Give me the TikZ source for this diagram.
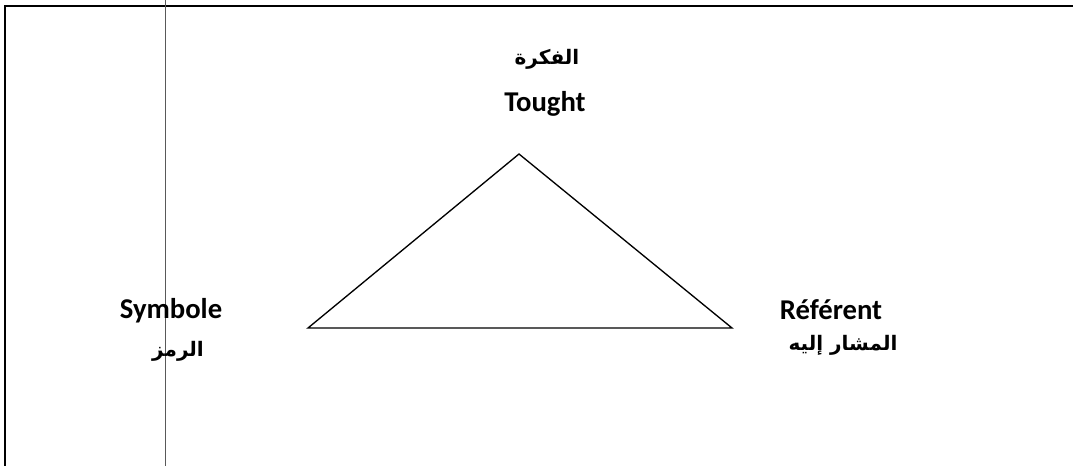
\documentclass[tikz,border=0pt]{standalone}
\usepackage{fontspec}
\setmainfont{Carlito}
\newfontfamily\arabicfont[Script=Arabic]{DejaVu Sans}
\TeXXeTstate=1
\begin{document}
\begin{tikzpicture}[x=0.75pt,y=-0.75pt,
  lat/.style={font=\fontsize{21.5}{26}\selectfont\bfseries, inner sep=0pt, anchor=base},
  arb/.style={font=\fontsize{15}{18}\selectfont\arabicfont\bfseries, inner sep=0pt, anchor=center},
  frameline/.style={line width=1.6pt, black},
  guide/.style={line width=0.8pt, black!65},
  tri/.style={line width=1pt, black, line join=miter}]
\useasboundingbox (0,0) rectangle (1073,466);
% frame
\coordinate (fbl) at (5,466);
\coordinate (ftl) at (5,6);
\coordinate (ftr) at (1073,6);
\draw[frameline] (fbl) -- (ftl) -- (ftr);
% thin vertical guide line
\coordinate (gt) at (165.5,0);
\coordinate (gb) at (165.5,466);
\draw[guide] (gt) -- (gb);
% triangle
\coordinate (apex) at (519,154);
\coordinate (left) at (308,328);
\coordinate (right) at (732,328);
\draw[tri] (apex) -- (right) -- (left) -- cycle;
% labels
\node[arb] (thoughtar) at (547,59) {\beginR الفكرة\endR};
\node[lat] (thought) at (545,112) {Tought};
\node[lat] (symbole) at (171,318) {Symbole};
\node[arb] (symbolar) at (178,351) {\beginR الرمز\endR};
\node[lat] (referent) at (831,320) {Référent};
\node[arb] (referentar) at (843,345) {\beginR المشار إليه\endR};
\end{tikzpicture}
\end{document}
